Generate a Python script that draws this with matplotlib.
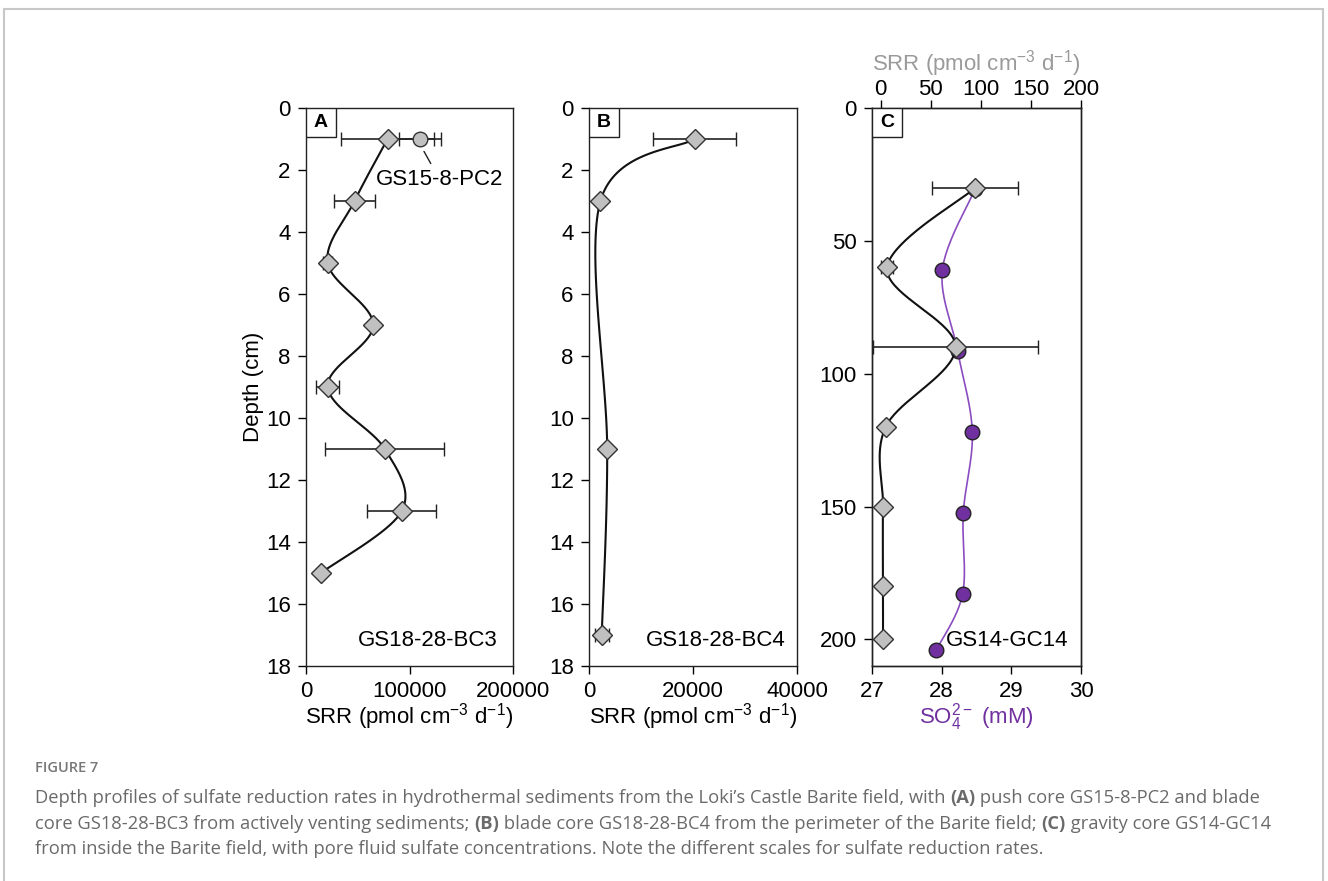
import numpy as np
import matplotlib
matplotlib.use("Agg")
import matplotlib.pyplot as plt
from matplotlib.patches import Rectangle

plt.rcParams["font.family"] = ["Liberation Sans", "DejaVu Sans"]
plt.rcParams["mathtext.fontset"] = "custom"
plt.rcParams["mathtext.rm"] = "Liberation Sans"
plt.rcParams["mathtext.it"] = "Liberation Sans:italic"
plt.rcParams["mathtext.bf"] = "Liberation Sans:bold"

# ---- data ----
# A: blade core GS18-28-BC3
depth_a = [1, 3, 5, 7, 9, 11, 13, 15]
srr_a = [78800, 46900, 20900, 65000, 20900, 76200, 92600, 14100]
err_a = [45000, 19800, 4300, 0, 11300, 57400, 33400, 0]
# A: push core GS15-8-PC2
depth_pc = [1]
srr_pc = [110000]
err_pc = [20000]

# B: blade core GS18-28-BC4
depth_b = [1, 3, 11, 17]
srr_b = [20300, 2200, 3500, 2450]
err_b = [8000, 0, 0, 1300]

# C: gravity core GS14-GC14
depth_c = [30, 60, 90, 120, 150, 180, 200]
srr_c = [94.5, 6.3, 74.8, 5.0, 2.3, 2.3, 2.3]
err_c = [43, 6, 82.6, 0, 0, 0, 0]
depth_so4 = [30.5, 61, 91.5, 122, 152.5, 183, 204]
so4_c = [28.48, 28.01, 28.23, 28.44, 28.31, 28.30, 27.92]

W, H = 1328, 881
FS = 16
GRAY_FILL = "#c0c0c0"
PURPLE = "#7030a0"
PURPLE_LINE = "#8a4cc0"


def smooth_line(ax, xs, ys, n=40):
    """Excel-style smoothed line (Catmull-Rom done in screen space)."""
    xs = np.asarray(xs, float)
    ys = np.asarray(ys, float)
    x0, x1 = ax.get_xlim()
    y0, y1 = ax.get_ylim()
    bb = ax.get_position()
    aw, ah = bb.width * W, bb.height * H
    px = (xs - x0) / (x1 - x0) * aw
    py = (ys - y0) / (y1 - y0) * ah
    p = np.column_stack([px, py])
    p = np.vstack([p[0], p, p[-1]])
    out = []
    t = np.linspace(0, 1, n)[:, None]
    for i in range(1, len(p) - 2):
        a, b, c, d = p[i - 1], p[i], p[i + 1], p[i + 2]
        seg = 0.5 * ((2 * b) + (-a + c) * t + (2 * a - 5 * b + 4 * c - d) * t ** 2
                     + (-a + 3 * b - 3 * c + d) * t ** 3)
        out.append(seg)
    out = np.vstack(out)
    sx = out[:, 0] / aw * (x1 - x0) + x0
    sy = out[:, 1] / ah * (y1 - y0) + y0
    return sx, sy


def style_axes(ax, pad=5):
    for s in ax.spines.values():
        s.set_linewidth(1.0)
        s.set_color("#222222")
    ax.tick_params(direction="out", length=6, width=1.0, labelsize=FS, pad=pad)


def letter_box(ax, letter):
    bw, bh = 30 / (ax.get_position().width * W), 29 / (ax.get_position().height * H)
    ax.add_patch(Rectangle((0, 1 - bh), bw, bh, transform=ax.transAxes,
                           facecolor="white", edgecolor="#222222", lw=1.0, zorder=5))
    ax.text(bw / 2, 1 - bh / 2, letter, transform=ax.transAxes, ha="center",
            va="center", fontsize=14, fontweight="bold", zorder=6)


def ax_rect(l, r, t=108, b=666):
    return [l / W, 1 - b / H, (r - l) / W, (b - t) / H]


fig = plt.figure(figsize=(W / 100, H / 100), dpi=100)

srr_label = r"SRR (pmol cm$^{-3}$ d$^{-1}$)"
dkw = dict(marker="D", ms=10, mfc=GRAY_FILL, mec="#333333", mew=1.0, ls="none",
           ecolor="#222222", elinewidth=1.2, capsize=5, capthick=1.2, zorder=4)

# ---- panel A ----
axA = fig.add_axes(ax_rect(306, 513))
axA.set_xlim(0, 200000)
axA.set_ylim(18, 0)
axA.set_xticks([0, 100000, 200000])
axA.set_yticks(range(0, 19, 2))
sx, sy = smooth_line(axA, srr_a, depth_a)
axA.plot(sx, sy, color="#111111", lw=1.5, zorder=3)
axA.errorbar(srr_a, depth_a, xerr=err_a, **dkw)
axA.errorbar(srr_pc, depth_pc, xerr=err_pc, marker="o", ms=10.5, mfc=GRAY_FILL,
             mec="#333333", mew=1.0, ls="none", ecolor="#222222", elinewidth=1.2,
             capsize=5, capthick=1.2, zorder=4)
axA.annotate("GS15-8-PC2", xy=(114000, 1.4), xytext=(129000, 2.3),
             ha="center", va="center", fontsize=FS,
             arrowprops=dict(arrowstyle="-", color="#222222", lw=1.0,
                             shrinkA=2, shrinkB=0))
axA.text(1 - 15 / 207, 25 / 558, "GS18-28-BC3", transform=axA.transAxes,
         ha="right", va="center", fontsize=FS)
axA.set_xlabel(srr_label, fontsize=FS, labelpad=-1)
axA.set_ylabel("Depth (cm)", fontsize=FS, labelpad=1)
style_axes(axA)
letter_box(axA, "A")

# ---- panel B ----
axB = fig.add_axes(ax_rect(589, 797))
axB.set_xlim(0, 40000)
axB.set_ylim(18, 0)
axB.set_xticks([0, 20000, 40000])
axB.set_yticks(range(0, 19, 2))
sx, sy = smooth_line(axB, srr_b, depth_b)
axB.plot(sx, sy, color="#111111", lw=1.5, zorder=3)
axB.errorbar(srr_b, depth_b, xerr=err_b, **dkw)
axB.text(1 - 11 / 208, 26 / 558, "GS18-28-BC4", transform=axB.transAxes,
         ha="right", va="center", fontsize=FS)
axB.set_xlabel(srr_label, fontsize=FS, labelpad=-1)
style_axes(axB)
letter_box(axB, "B")

# ---- panel C ----
axC = fig.add_axes(ax_rect(872, 1081))
axC.set_xlim(27, 30)
axC.set_ylim(210, 0)
axC.set_xticks([27, 28, 29, 30])
axC.set_yticks([0, 50, 100, 150, 200])
sx, sy = smooth_line(axC, so4_c, depth_so4)
axC.plot(sx, sy, color=PURPLE_LINE, lw=1.2, zorder=2)
axC.plot(so4_c, depth_so4, "o", ms=10.5, mfc=PURPLE, mec="#222222", mew=1.0, zorder=3)
axC.text(1 - 13 / 209, 25 / 558, "GS14-GC14", transform=axC.transAxes,
         ha="right", va="center", fontsize=FS)
axC.set_xlabel(r"SO$_4^{2-}$ (mM)", fontsize=FS, color=PURPLE, labelpad=-1)
style_axes(axC)

axCt = axC.twiny()
axCt.set_xlim(-8.7, 200)
axCt.set_xticks([0, 50, 100, 150, 200])
sx, sy = smooth_line(axCt, srr_c, depth_c)
axCt.plot(sx, sy, color="#111111", lw=1.5, zorder=3)
axCt.errorbar(srr_c, depth_c, xerr=err_c, **dkw)
axCt.set_xlabel(srr_label, fontsize=FS, color="#9a9a9a", labelpad=6)
style_axes(axCt, pad=0)
letter_box(axCt, "C")

# ---- frame and caption ----
fig.add_artist(Rectangle((4 / W, -0.05), (W - 9) / W, 1.05 - 9 / H,
                         transform=fig.transFigure, fill=False,
                         edgecolor="#c8c8c8", lw=1.5))

cap_font = ["Open Sans", "DejaVu Sans"]
cap_color = "#6a6a6a"
fig.text(35 / W, 1 - 768 / H, "FIGURE 7", fontsize=10.5, fontweight="semibold",
         color="#777777", family=cap_font, va="center")

caption_lines = [
    [("Depth profiles of sulfate reduction rates in hydrothermal sediments from the Loki\u2019s "
      "Castle Barite field, with ", "normal"), ("(A)", "bold"),
     (" push core GS15-8-PC2 and blade", "normal")],
    [("core GS18-28-BC3 from actively venting sediments; ", "normal"), ("(B)", "bold"),
     (" blade core GS18-28-BC4 from the perimeter of the Barite field; ", "normal"),
     ("(C)", "bold"), (" gravity core GS14-GC14", "normal")],
    [("from inside the Barite field, with pore fluid sulfate concentrations. Note the "
      "different scales for sulfate reduction rates.", "normal")],
]
line_y = [798, 824, 849]
renderer = fig.canvas.get_renderer()
for pieces, yy in zip(caption_lines, line_y):
    x = 35
    for s, wt in pieces:
        t = fig.text(x / W, 1 - yy / H, s, fontsize=13.25, fontweight=wt,
                     color=cap_color, family=cap_font, va="center")
        x += t.get_window_extent(renderer).width

fig.savefig("out.png", dpi=100)
